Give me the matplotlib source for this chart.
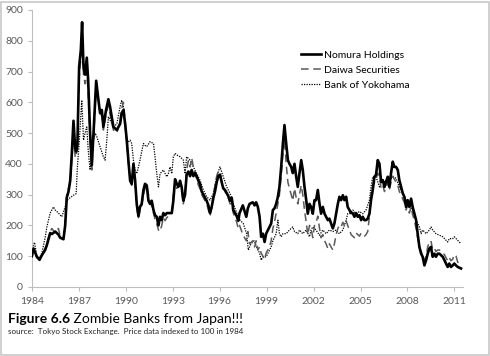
import matplotlib
matplotlib.use("Agg")
import matplotlib.pyplot as plt
from matplotlib.patches import Rectangle

# Share prices, indexed to 100 in 1984
nomura_years = [
    1984.00, 1984.11, 1984.32, 1984.49, 1984.64, 1984.85, 1984.96, 1985.17, 1985.28, 1985.49,
    1985.70, 1985.81, 1986.02, 1986.13, 1986.23, 1986.34, 1986.45, 1986.55, 1986.66, 1986.77,
    1986.83, 1986.91, 1987.02, 1987.13, 1987.21, 1987.30, 1987.40, 1987.51, 1987.60, 1987.72,
    1987.83, 1987.94, 1988.11, 1988.26, 1988.36, 1988.47, 1988.57, 1988.74, 1988.89, 1989.00,
    1989.21, 1989.43, 1989.64, 1989.74, 1989.85, 1989.96, 1990.06, 1990.17, 1990.28, 1990.38,
    1990.49, 1990.60, 1990.70, 1990.81, 1990.91, 1991.02, 1991.13, 1991.23, 1991.34, 1991.45,
    1991.55, 1991.66, 1991.77, 1991.87, 1991.98, 1992.09, 1992.19, 1992.30, 1992.40, 1992.51,
    1992.62, 1992.83, 1992.94, 1993.04, 1993.15, 1993.26, 1993.36, 1993.47, 1993.57, 1993.68,
    1993.79, 1993.89, 1994.00, 1994.11, 1994.21, 1994.32, 1994.43, 1994.53, 1994.64, 1994.74,
    1994.85, 1994.96, 1995.06, 1995.17, 1995.28, 1995.38, 1995.49, 1995.60, 1995.70, 1995.81,
    1995.91, 1996.02, 1996.13, 1996.23, 1996.34, 1996.45, 1996.55, 1996.66, 1996.77, 1996.87,
    1996.98, 1997.09, 1997.19, 1997.27, 1997.48, 1997.70, 1997.80, 1997.91, 1998.12, 1998.23,
    1998.33, 1998.44, 1998.55, 1998.65, 1998.76, 1998.87, 1998.97, 1999.18, 1999.29, 1999.40,
    1999.50, 1999.61, 1999.72, 1999.82, 1999.93, 2000.04, 2000.14, 2000.25, 2000.36, 2000.46,
    2000.57, 2000.67, 2000.78, 2000.89, 2000.99, 2001.10, 2001.21, 2001.31, 2001.42, 2001.53,
    2001.63, 2001.74, 2001.84, 2001.95, 2002.06, 2002.16, 2002.27, 2002.38, 2002.48, 2002.59,
    2002.70, 2002.80, 2002.91, 2003.01, 2003.12, 2003.23, 2003.33, 2003.44, 2003.55, 2003.65,
    2003.76, 2003.87, 2003.97, 2004.08, 2004.18, 2004.29, 2004.40, 2004.50, 2004.61, 2004.72,
    2004.82, 2004.93, 2005.04, 2005.14, 2005.25, 2005.35, 2005.46, 2005.57, 2005.67, 2005.78,
    2005.89, 2005.99, 2006.10, 2006.21, 2006.31, 2006.42, 2006.53, 2006.63, 2006.74, 2006.84,
    2006.95, 2007.06, 2007.16, 2007.27, 2007.38, 2007.48, 2007.59, 2007.70, 2007.80, 2007.91,
    2008.01, 2008.12, 2008.23, 2008.33, 2008.44, 2008.55, 2008.65, 2008.76, 2008.87, 2008.97,
    2009.08, 2009.19, 2009.29, 2009.40, 2009.50, 2009.61, 2009.72, 2009.82, 2009.93, 2010.04,
    2010.14, 2010.25, 2010.36, 2010.46, 2010.57, 2010.67, 2010.78, 2010.89, 2010.99, 2011.10,
    2011.21, 2011.42,
]
nomura = [
    100, 125, 98, 88, 103, 120, 136, 175, 172, 180,
    170, 160, 155, 200, 290, 310, 345, 430, 540, 450,
    440, 460, 715, 770, 860, 715, 690, 745, 670, 500,
    395, 500, 670, 605, 565, 575, 520, 575, 610, 585,
    520, 510, 530, 565, 575, 530, 480, 410, 345, 335,
    400, 345, 270, 230, 260, 270, 315, 335, 330, 280,
    270, 280, 250, 233, 228, 200, 228, 217, 240, 233,
    240, 240, 240, 280, 350, 335, 325, 345, 325, 280,
    300, 365, 375, 360, 380, 360, 370, 360, 345, 335,
    310, 300, 290, 280, 265, 240, 260, 290, 310, 340,
    360, 365, 340, 320, 315, 305, 295, 280, 290, 250,
    240, 230, 215, 240, 265, 228, 255, 270, 275, 265,
    275, 260, 228, 163, 173, 146, 173, 195, 206, 250,
    255, 270, 293, 325, 390, 466, 526, 466, 412, 400,
    390, 370, 400, 358, 325, 370, 412, 380, 325, 282,
    238, 270, 260, 238, 282, 282, 315, 270, 238, 260,
    238, 228, 217, 222, 206, 190, 206, 238, 270, 293,
    282, 298, 282, 293, 260, 250, 240, 240, 228, 240,
    228, 233, 217, 228, 217, 217, 222, 238, 282, 315,
    358, 364, 412, 400, 342, 347, 325, 342, 358, 325,
    370, 407, 390, 390, 380, 347, 325, 304, 293, 260,
    282, 260, 287, 260, 238, 217, 173, 130, 108, 98,
    70, 87, 108, 125, 130, 98, 108, 98, 108, 108,
    103, 98, 87, 76, 65, 76, 65, 70, 76, 70,
    65, 60,
]

daiwa_years = nomura_years
daiwa = [
    100, 120, 95, 90, 105, 125, 140, 180, 190, 175,
    190, 165, 160, 210, 300, 320, 340, 410, 500, 420,
    430, 450, 680, 740, 790, 690, 660, 700, 630, 480,
    380, 480, 640, 600, 560, 560, 510, 560, 590, 560,
    510, 500, 540, 580, 600, 540, 470, 400, 350, 330,
    390, 330, 260, 225, 250, 265, 300, 320, 330, 300,
    290, 260, 240, 220, 205, 185, 180, 200, 225, 215,
    225, 235, 240, 300, 340, 320, 330, 330, 310, 270,
    310, 380, 410, 390, 420, 390, 370, 350, 330, 320,
    300, 290, 280, 270, 250, 230, 255, 300, 330, 360,
    375, 370, 345, 325, 310, 300, 290, 270, 270, 240,
    225, 210, 190, 200, 170, 150, 180, 140, 150, 130,
    150, 120, 130, 110, 100, 90, 110, 130, 150, 190,
    210, 240, 270, 300, 360, 430, 480, 400, 340, 320,
    300, 280, 320, 290, 270, 300, 330, 300, 250, 210,
    170, 200, 190, 160, 200, 210, 230, 190, 160, 170,
    150, 140, 125, 140, 130, 120, 140, 170, 190, 200,
    195, 210, 200, 215, 200, 185, 170, 165, 160, 175,
    170, 165, 175, 170, 165, 170, 180, 230, 300, 330,
    340, 350, 370, 360, 320, 330, 310, 325, 340, 315,
    340, 360, 350, 340, 330, 310, 300, 285, 275, 250,
    265, 240, 260, 235, 215, 190, 160, 130, 115, 105,
    85, 100, 130, 145, 150, 120, 125, 115, 120, 120,
    115, 110, 105, 95, 85, 95, 85, 90, 105, 100,
    80, 75,
]

yokohama_years = [
    1984.00, 1984.06, 1984.17, 1984.32, 1984.49, 1984.64, 1984.85, 1984.96, 1985.17, 1985.38,
    1985.49, 1985.70, 1985.91, 1986.13, 1986.23, 1986.45, 1986.66, 1986.83, 1986.91, 1987.02,
    1987.19, 1987.30, 1987.40, 1987.51, 1987.60, 1987.72, 1987.83, 1987.94, 1988.04, 1988.15,
    1988.36, 1988.57, 1988.68, 1988.79, 1988.89, 1989.00, 1989.21, 1989.43, 1989.64, 1989.74,
    1989.85, 1989.96, 1990.06, 1990.28, 1990.38, 1990.49, 1990.60, 1990.70, 1990.81, 1990.91,
    1991.02, 1991.13, 1991.23, 1991.34, 1991.55, 1991.77, 1991.87, 1991.98, 1992.09, 1992.19,
    1992.40, 1992.62, 1992.72, 1992.83, 1992.94, 1993.04, 1993.15, 1993.26, 1993.47, 1993.68,
    1993.79, 1993.89, 1994.11, 1994.32, 1994.53, 1994.74, 1994.96, 1995.17, 1995.38, 1995.60,
    1995.81, 1996.02, 1996.23, 1996.45, 1996.66, 1996.87, 1997.09, 1997.30, 1997.51, 1997.72,
    1997.83, 1998.00, 1998.20, 1998.40, 1998.55, 1998.65, 1998.76, 1998.97, 1999.29, 1999.40,
    1999.61, 1999.72, 1999.82, 1999.93, 2000.04, 2000.25, 2000.46, 2000.67, 2000.78, 2000.99,
    2001.10, 2001.31, 2001.53, 2001.74, 2001.84, 2001.95, 2002.16, 2002.38, 2002.59, 2002.80,
    2003.01, 2003.23, 2003.44, 2003.65, 2003.87, 2004.08, 2004.18, 2004.29, 2004.50, 2004.72,
    2004.93, 2005.14, 2005.35, 2005.57, 2005.67, 2005.78, 2005.99, 2006.21, 2006.31, 2006.42,
    2006.63, 2006.84, 2007.06, 2007.27, 2007.48, 2007.70, 2007.91, 2008.12, 2008.33, 2008.55,
    2008.76, 2008.87, 2008.97, 2009.19, 2009.40, 2009.50, 2009.61, 2009.82, 2010.04, 2010.25,
    2010.46, 2010.57, 2010.67, 2010.89, 2010.99, 2011.10, 2011.31, 2011.42,
]
yokohama = [
    100, 130, 145, 100, 95, 110, 160, 195, 240, 260,
    250, 240, 228, 260, 280, 290, 298, 303, 390, 466,
    607, 477, 500, 520, 445, 380, 434, 477, 500, 488,
    456, 423, 412, 477, 553, 542, 520, 530, 586, 607,
    586, 520, 466, 477, 466, 412, 380, 368, 390, 412,
    440, 466, 460, 456, 472, 466, 423, 368, 325, 368,
    380, 358, 368, 390, 368, 423, 434, 429, 423, 412,
    368, 423, 412, 390, 368, 347, 315, 293, 282, 304,
    358, 390, 358, 325, 304, 271, 240, 217, 206, 173,
    120, 140, 150, 125, 110, 87, 98, 98, 130, 150,
    173, 217, 173, 163, 173, 173, 185, 195, 180, 173,
    185, 173, 185, 163, 185, 195, 185, 168, 185, 173,
    185, 180, 185, 173, 185, 217, 238, 238, 250, 238,
    245, 238, 250, 282, 325, 358, 358, 325, 336, 347,
    336, 347, 358, 353, 325, 304, 282, 270, 250, 217,
    195, 173, 185, 173, 185, 195, 185, 173, 168, 163,
    152, 146, 157, 157, 163, 157, 146, 141,
]

year_ticks = list(range(1984, 2012, 3))
value_ticks = list(range(0, 1000, 100))

plt.rcParams['font.family'] = ['Lato', 'DejaVu Sans']

fig = plt.figure(figsize=(4.9, 3.56), dpi=100)
ax = fig.add_axes([0.065, 0.194, 0.88, 0.778])

ax.plot(nomura_years, nomura, color='black', lw=1.9, label='Nomura Holdings', zorder=3)
ax.plot(daiwa_years, daiwa, color='#5a5a5a', lw=1.1, dashes=(5, 3), label='Daiwa Securities', zorder=2)
ax.plot(yokohama_years, yokohama, color='black', lw=0.9, linestyle=(0, (1, 1)),
        label='Bank of Yokohama', zorder=1)

ax.set_xlim(1984, 2011.55)
ax.set_ylim(0, 900)
ax.set_xticks(year_ticks)
ax.set_yticks(value_ticks)
ax.tick_params(axis='both', colors='#bdbdbd', labelcolor='#595959', labelsize=7.5, length=3, width=0.8)
ax.tick_params(axis='x', pad=4)

for side in ('top', 'right'):
    ax.spines[side].set_visible(False)
for side in ('left', 'bottom'):
    ax.spines[side].set_color('#bdbdbd')
    ax.spines[side].set_linewidth(0.8)

ax.legend(loc='upper left', bbox_to_anchor=(0.605, 0.87), bbox_transform=fig.transFigure,
          frameon=False, fontsize=7.5, handlelength=2.0, handletextpad=0.25, labelspacing=0.55,
          borderaxespad=0)

title = fig.text(0.016, 0.092, 'Figure 6.6', fontsize=10, fontweight='bold', color='black')
fig.canvas.draw()
ax.annotate(' Zombie Banks from Japan!!!', xy=(1, 0), xycoords=title, va='bottom',
            fontsize=10, color='black', annotation_clip=False)
fig.text(0.016, 0.063, 'source:  Tokyo Stock Exchange.  Price data indexed to 100 in 1984',
         fontsize=5.8, color='#222222')

fig.patches.append(Rectangle((0.003, 0.004), 0.994, 0.991, transform=fig.transFigure,
                             fill=False, edgecolor='#c8c8c8', lw=1.2))

fig.savefig('out.png', dpi=100)
